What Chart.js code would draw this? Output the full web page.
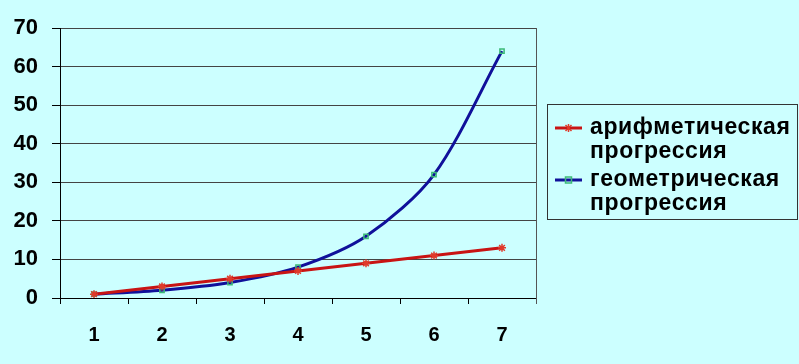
<!DOCTYPE html>
<html>
<head>
<meta charset="utf-8">
<script src="https://cdn.jsdelivr.net/npm/chart.js@4/dist/chart.umd.min.js"></script>
<style>
  html, body { margin: 0; padding: 0; background: #ccffff; }
  #wrap { width: 799px; height: 364px; }
</style>
</head>
<body>
<div id="wrap"><canvas id="c" width="799" height="364"></canvas></div>
<script>
const categories = ['1', '2', '3', '4', '5', '6', '7'];
const arithmetic = [1, 3, 5, 7, 9, 11, 13];
const geometric = [1, 2, 4, 8, 16, 32, 64];
const seriesNames = [
  ['арифметическая', 'прогрессия'],
  ['геометрическая', 'прогрессия']
];

const FONT = '"Liberation Sans", Arial, sans-serif';

const frameAndLegend = {
  id: 'frameAndLegend',
  afterDatasetsDraw(chart) {
    const ctx = chart.ctx;
    const a = chart.chartArea;
    ctx.save();
    ctx.strokeStyle = '#555555';
    ctx.lineWidth = 1;
    ctx.beginPath();
    ctx.moveTo(Math.round(a.right) + 0.5, a.top);
    ctx.lineTo(Math.round(a.right) + 0.5, a.bottom + 6);
    ctx.stroke();
    ctx.restore();
  },
  afterDraw(chart) {
    const ctx = chart.ctx;
    const bx = 547, by = 104, bw = 251, bh = 115;
    ctx.save();
    ctx.strokeStyle = '#333333';
    ctx.lineWidth = 1;
    ctx.strokeRect(bx + 0.5, by + 0.5, bw - 1, bh);
    ctx.font = 'bold 23px ' + FONT;
    if ('letterSpacing' in ctx) ctx.letterSpacing = '0.6px';
    ctx.fillStyle = '#000000';
    ctx.textBaseline = 'middle';
    ctx.textAlign = 'left';
    const lineGap = 24;
    const groupStarts = [128, 180];
    chart.data.datasets.forEach((ds, i) => {
      const y0 = groupStarts[i];
      const lines = seriesNames[i];
      lines.forEach((t, k) => ctx.fillText(t, 590, y0 + k * lineGap));
      ctx.strokeStyle = ds.borderColor;
      ctx.lineWidth = 3;
      ctx.beginPath();
      ctx.moveTo(555, y0);
      ctx.lineTo(582, y0);
      ctx.stroke();
      const cx = 568.5;
      ctx.lineWidth = 1.5;
      ctx.strokeStyle = ds.pointBorderColor;
      if (ds.pointStyle === 'rect') {
        ctx.strokeRect(cx - 3, y0 - 3, 6, 6);
      } else {
        ctx.beginPath();
        ctx.moveTo(cx - 3, y0 - 3); ctx.lineTo(cx + 3, y0 + 3);
        ctx.moveTo(cx + 3, y0 - 3); ctx.lineTo(cx - 3, y0 + 3);
        ctx.moveTo(cx, y0 - 4); ctx.lineTo(cx, y0 + 4);
        ctx.stroke();
      }
    });
    ctx.restore();
  }
};

new Chart(document.getElementById('c'), {
  type: 'line',
  data: {
    labels: categories,
    datasets: [
      {
        label: seriesNames[0].join(' '),
        data: arithmetic,
        borderColor: '#c81414',
        borderWidth: 3,
        pointStyle: 'star',
        pointRadius: 4,
        pointBorderColor: '#e03a2a',
        pointBackgroundColor: '#e03a2a',
        pointBorderWidth: 1.5,
        tension: 0
      },
      {
        label: seriesNames[1].join(' '),
        data: geometric,
        borderColor: '#10109a',
        borderWidth: 3,
        pointStyle: 'rect',
        pointRadius: 3,
        pointBorderColor: '#3cba78',
        pointBackgroundColor: 'rgba(0,0,0,0)',
        pointBorderWidth: 1.5,
        tension: 0.3
      }
    ]
  },
  options: {
    responsive: false,
    animation: false,
    layout: { padding: { top: 28, right: 263, left: 0, bottom: 0 } },
    plugins: { legend: { display: false }, tooltip: { enabled: false } },
    scales: {
      x: {
        offset: true,
        grid: {
          offset: true,
          drawOnChartArea: false,
          drawTicks: true,
          tickLength: 6,
          tickColor: '#000000',
          tickWidth: 1
        },
        border: { display: true, color: '#000000', width: 1 },
        ticks: {
          color: '#000000',
          font: { family: FONT, size: 20, weight: 'bold' },
          padding: 19,
          maxRotation: 0
        },
        afterFit(s) { s.height = 66; }
      },
      y: {
        min: 0,
        max: 70,
        ticks: {
          stepSize: 10,
          color: '#000000',
          font: { family: FONT, size: 22, weight: 'bold' },
          padding: 14
        },
        grid: {
          color: '#444444',
          lineWidth: 1,
          drawTicks: true,
          tickLength: 8,
          tickColor: '#000000'
        },
        border: { display: true, color: '#000000', width: 1 },
        afterFit(s) { s.width = 60; }
      }
    }
  },
  plugins: [frameAndLegend]
});
</script>
</body>
</html>
